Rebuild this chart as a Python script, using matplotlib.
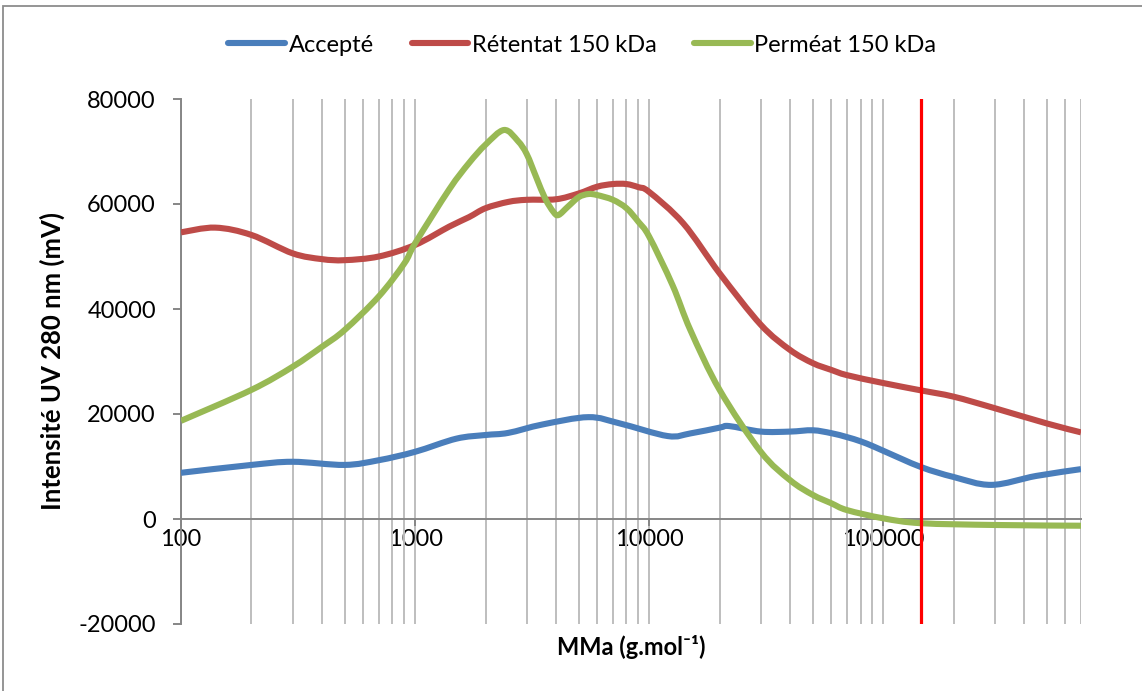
import matplotlib
matplotlib.use("Agg")
import numpy as np
import matplotlib.pyplot as plt
from matplotlib.ticker import FixedLocator, NullFormatter, FuncFormatter
from matplotlib.patches import Rectangle, PathPatch
from matplotlib.path import Path
from matplotlib.lines import Line2D

plt.rcParams['font.family'] = ['Lato', 'DejaVu Sans']

# ---- data ----
x_accepte = [100, 200, 300, 500, 700, 1000, 1500, 2000, 2500, 3500, 5500, 7500,
             12000, 15000, 20000, 22000, 30000, 40000, 50000, 60000, 70000, 80000,
             90000, 100000, 145000, 200000, 290000, 450000, 700000]
y_accepte = [8800, 10300, 10900, 10300, 11200, 12800, 15300, 16000, 16400, 18000,
             19400, 18200, 15800, 16300, 17400, 17700, 16650, 16650, 16900, 16350,
             15600, 14800, 13900, 13000, 9900, 8000, 6500, 8200, 9500]

x_retentat = [100, 140, 200, 300, 400, 500, 700, 1000, 1400, 1700, 2000, 2500, 3000,
              4000, 5000, 6000, 7000, 8000, 9000, 10000, 14000, 20000, 30000, 40000,
              50000, 60000, 70000, 100000, 145000, 200000, 300000, 500000, 700000]
y_retentat = [54600, 55500, 54100, 50600, 49500, 49300, 50000, 52200, 55700, 57500,
              59200, 60400, 60800, 60900, 62000, 63300, 63800, 63800, 63200, 62300,
              56300, 46800, 37000, 32200, 29700, 28400, 27400, 25900, 24500, 23300,
              21100, 18200, 16500]

x_permeat = [100, 200, 300, 400, 500, 700, 900, 1000, 1400, 1700, 2000, 2400, 2750,
             3000, 3300, 3600, 3900, 4100, 4500, 5000, 5500, 6000, 7000, 8000, 9000,
             10000, 12600, 15000, 20000, 30000, 40000, 50000, 60000, 70000, 100000,
             145000, 300000, 700000]
y_permeat = [18700, 24600, 29000, 32800, 36000, 42400, 48700, 52500, 62800, 67800,
             71300, 74100, 72000, 69500, 65000, 61000, 58500, 57900, 59500, 61300,
             61900, 61700, 60800, 59200, 56600, 53800, 44500, 36000, 24600, 12800,
             7400, 4600, 3000, 1700, 130, -800, -1140, -1280]

seuil = 145000  # red vertical marker (150 kDa)

series_names = ['Accepté', 'Rétentat 150 kDa', 'Perméat 150 kDa']
series_colors = ['#4A7EBB', '#BE4B48', '#98B954']

x_ticks = [100, 1000, 10000, 100000]
y_ticks = [-20000, 0, 20000, 40000, 60000, 80000]


def smooth_path(xs, ys):
    """Excel-like smoothed line: cubic Bezier segments through the data points
    (control points from neighbouring points, computed in log-x space)."""
    lx = np.log10(np.asarray(xs, float))
    yy = np.asarray(ys, float)
    n = len(lx)
    verts = [(xs[0], ys[0])]
    codes = [Path.MOVETO]
    for i in range(n - 1):
        i0 = max(i - 1, 0)
        i3 = min(i + 2, n - 1)
        c1x = lx[i] + (lx[i + 1] - lx[i0]) / 6
        c1y = yy[i] + (yy[i + 1] - yy[i0]) / 6
        c2x = lx[i + 1] - (lx[i3] - lx[i]) / 6
        c2y = yy[i + 1] - (yy[i3] - yy[i]) / 6
        verts += [(10 ** c1x, c1y), (10 ** c2x, c2y), (xs[i + 1], ys[i + 1])]
        codes += [Path.CURVE4] * 3
    return Path(verts, codes)


# ---- figure ----
W, H = 1142, 691
fig = plt.figure(figsize=(W / 100, H / 100), dpi=100)
fig.patches.append(Rectangle((3 / W, -0.05), 1.2, 1 - 6 / H + 0.05,
                             transform=fig.transFigure, fill=False,
                             edgecolor='#8C8C8C', linewidth=1.3))

ax = fig.add_axes([181 / W, 1 - 624 / H, (1081 - 181) / W, (624 - 99) / H])
ax.set_xscale('log')
ax.set_xlim(100, 700000)
ax.set_ylim(-20000, 80000)

minor = [m * 10 ** e for e in range(2, 6) for m in range(2, 10) if m * 10 ** e <= 700000]
ax.xaxis.set_major_locator(FixedLocator(x_ticks))
ax.xaxis.set_minor_locator(FixedLocator(minor))
ax.xaxis.set_minor_formatter(NullFormatter())
ax.xaxis.set_major_formatter(FuncFormatter(lambda v, p: f"{int(round(v))}"))
ax.grid(True, which='both', axis='x', color='#BEBEBE', linewidth=1.4, zorder=0)
ax.set_axisbelow(True)

handles = []
for xs, ys, name, col in zip([x_accepte, x_retentat, x_permeat],
                             [y_accepte, y_retentat, y_permeat],
                             series_names, series_colors):
    patch = PathPatch(smooth_path(xs, ys), facecolor='none', edgecolor=col,
                      linewidth=4.4, joinstyle='round', capstyle='butt', zorder=3)
    ax.add_patch(patch)
    handles.append(Line2D([], [], color=col, linewidth=4.4,
                          solid_capstyle='round', label=name))

ax.axvline(seuil, color='#FF0000', linewidth=2.3, zorder=4)

for s in ['top', 'right']:
    ax.spines[s].set_visible(False)
ax.spines['bottom'].set_position(('data', 0))
ax.spines['bottom'].set_color('#868686')
ax.spines['bottom'].set_linewidth(1.4)
ax.spines['left'].set_color('#868686')
ax.spines['left'].set_linewidth(1.4)

ax.set_yticks(y_ticks)
ax.set_yticklabels([str(v) for v in y_ticks])
ax.tick_params(axis='y', which='major', length=6, width=1.4, color='#868686',
               labelsize=17, pad=12, direction='out')
ax.tick_params(axis='x', which='major', length=5, width=1.4, color='#868686',
               labelsize=17, pad=2, direction='out')
ax.tick_params(axis='x', which='minor', length=0)

ax.set_ylabel('Intensité UV 280 nm (mV)', fontsize=18.5, fontweight='bold', labelpad=10)
fig.text(631 / W, 1 - 647 / H, 'MMa (g.mol⁻¹)', fontsize=17,
         fontweight='bold', ha='center', va='center')

leg = fig.legend(handles=handles, loc='center', bbox_to_anchor=(0.51, 1 - 45 / H),
                 ncol=3, frameon=False, fontsize=17, handlelength=2.4,
                 handletextpad=0.15, columnspacing=1.6)

fig.savefig('out.png', dpi=100)
